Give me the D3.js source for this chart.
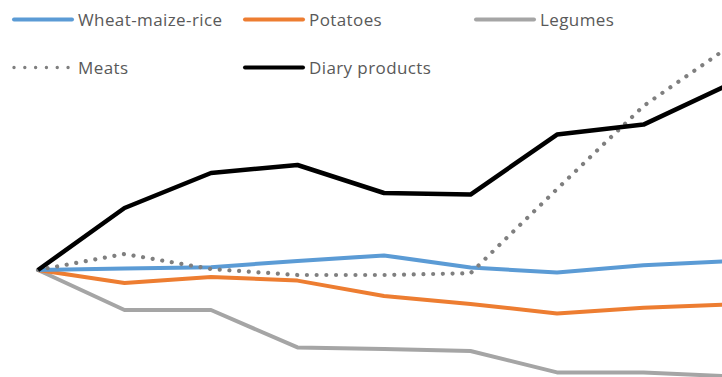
<!DOCTYPE html>
<html>
<head>
<meta charset="utf-8">
<script src="https://cdn.jsdelivr.net/npm/d3@7"></script>
<style>
  html, body { margin: 0; padding: 0; background: #fff; overflow: hidden; }
  svg { display: block; }
  .legend text { font-family: "Open Sans", "Noto Sans", sans-serif; font-size: 17px; letter-spacing: 0.4px; fill: #595959; }
</style>
</head>
<body>
<svg id="chart" width="722" height="377"></svg>
<script>
// Periods along the horizontal axis (index change relative to the first period)
const periods = [1, 2, 3, 4, 5, 6, 7, 8, 9];

// Change in each food group relative to period 1
const wheatMaizeRice = [0, 0.7, 1.4, 4.5, 7.3, 1.3, -1.3, 2.4, 4.4];
const potatoes       = [0, -6.5, -3.5, -5.3, -13, -17, -21.7, -18.9, -17.2];
const legumes        = [0, -20, -20, -38.7, -39.5, -40.5, -51.2, -51.2, -53.2];
const meats          = [0, 8, 0.5, -2.5, -2.5, -1.6, 40.5, 82, 112];
const dairyProducts  = [0, 31, 48.5, 52.5, 38.5, 37.7, 67.7, 72.7, 93];

const seriesNames = ["Wheat-maize-rice", "Potatoes", "Legumes", "Meats", "Diary products"];
const seriesValues = [wheatMaizeRice, potatoes, legumes, meats, dairyProducts];
const seriesColors = ["#5b9bd5", "#ed7d31", "#a5a5a5", "#7f7f7f", "#000000"];

const svg = d3.select("#chart");

const x = d3.scaleLinear().domain([1, 9]).range([38, 730]);
const y = d3.scaleLinear().domain([-55, 135]).range([380, 0]);

const line = d3.line()
  .x((d, i) => x(periods[i]))
  .y(d => y(d));

const plot = svg.append("g");

// draw order: legumes, potatoes, wheat, meats, dairy on top
const order = [2, 1, 0, 3, 4];
order.forEach(k => {
  const p = plot.append("path")
    .datum(seriesValues[k])
    .attr("d", line)
    .attr("fill", "none")
    .attr("stroke", seriesColors[k])
    .attr("stroke-linejoin", "round");
  if (k === 3) {
    p.attr("stroke-width", 4.2)
     .attr("stroke-linecap", "round")
     .attr("stroke-dasharray", "0.01 9.7");
  } else {
    p.attr("stroke-width", k === 4 ? 4.5 : 4)
     .attr("stroke-linecap", "butt");
  }
});

// Legend
const legendItems = [
  { k: 0, lx: 14, ly: 19.5 },
  { k: 1, lx: 245, ly: 19.5 },
  { k: 2, lx: 476, ly: 19.5 },
  { k: 3, lx: 14, ly: 67.5 },
  { k: 4, lx: 245, ly: 67.5 }
];
const legend = svg.append("g").attr("class", "legend");
legendItems.forEach(it => {
  const g = legend.append("g");
  const seg = g.append("line")
    .attr("x1", it.lx).attr("x2", it.lx + 58)
    .attr("y1", it.ly).attr("y2", it.ly)
    .attr("stroke", seriesColors[it.k]);
  if (it.k === 3) {
    seg.attr("x2", it.lx + 55)
      .attr("stroke-width", 3.4)
      .attr("stroke-linecap", "round")
      .attr("stroke-dasharray", "0.01 10.8");
  } else {
    seg.attr("stroke-width", 4).attr("stroke-linecap", "round");
  }
  g.append("text")
    .attr("x", it.lx + 64)
    .attr("y", it.ly + 6)
    .text(seriesNames[it.k]);
});
</script>
</body>
</html>
